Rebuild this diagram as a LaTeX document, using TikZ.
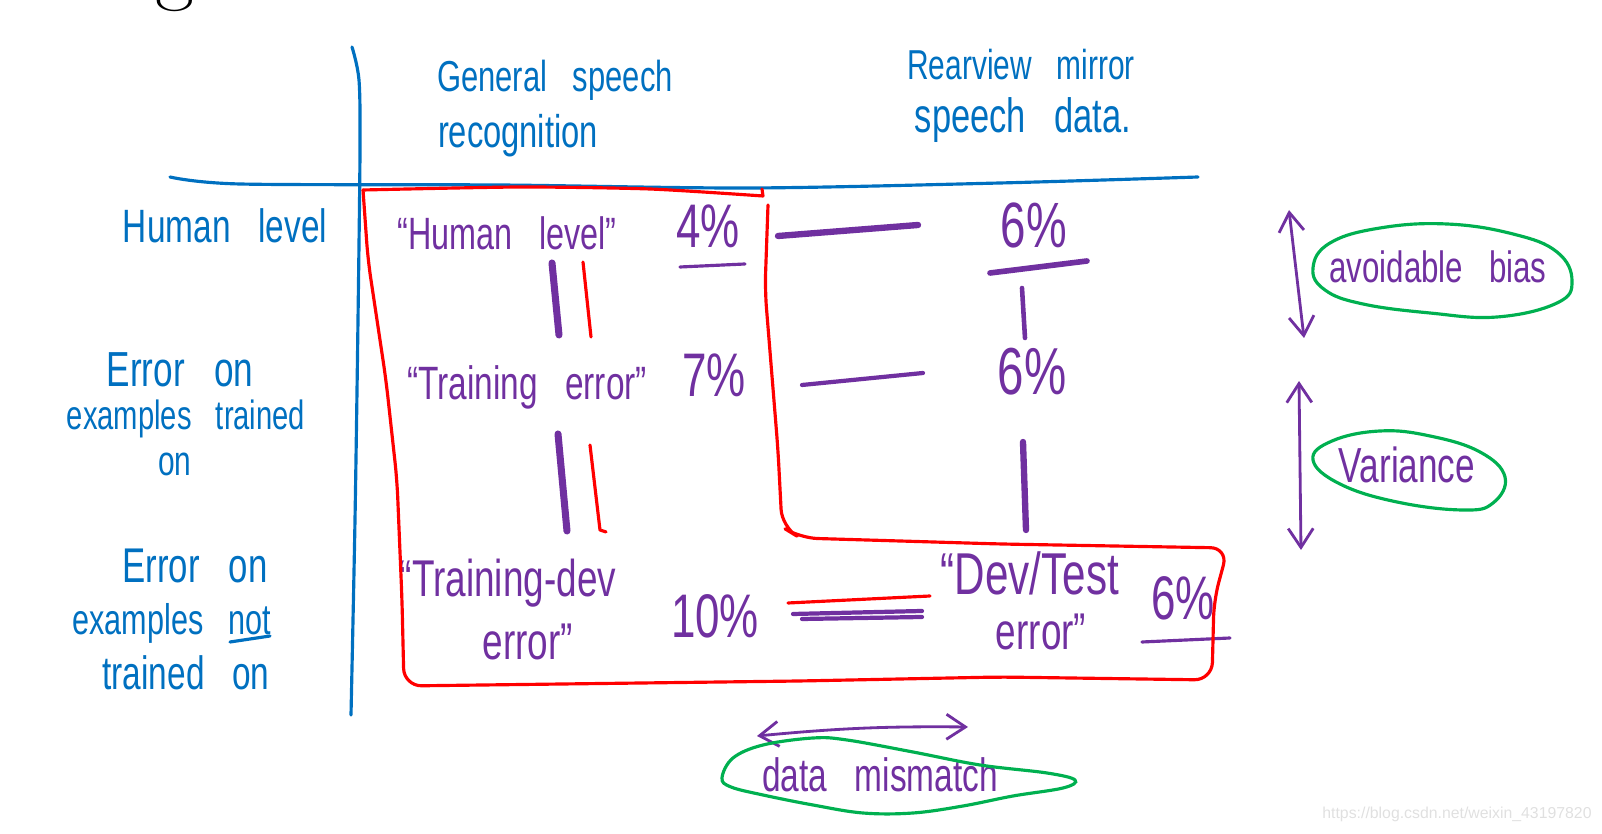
\documentclass[tikz,border=0pt]{standalone}
\usepackage{fontspec}
\newfontfamily\handfont{Liberation Sans}
\newfontfamily\markfont{Liberation Sans}
\usetikzlibrary{arrows.meta}
\definecolor{penblue}{RGB}{0,112,192}
\definecolor{penpurple}{RGB}{112,48,160}
\definecolor{penred}{RGB}{255,0,0}
\definecolor{pengreen}{RGB}{0,176,80}
\newcommand{\handat}[1]{\handfont\fontsize{#1}{#1}\selectfont\spaceskip=0.83em\relax}
\tikzset{
  hand/.style    = {font=\handat{#1}, inner sep=0pt, anchor=base, yscale=1.4, transform shape},
  hand/.default  = 9,
  blu/.style     = {hand=#1, text=penblue},
  blu/.default   = 9,
  pur/.style     = {hand=#1, text=penpurple},
  pur/.default   = 9,
  bluline/.style = {penblue, line width=0.9pt, line cap=round, line join=round},
  redline/.style = {penred, line width=0.9pt, line cap=round, line join=round},
  penline/.style = {penpurple, line width=#1, line cap=round},
  penline/.default = 0.9pt,
  bubble/.style  = {pengreen, line width=0.9pt},
  twoway/.style  = {penpurple, line width=0.8pt, line cap=round,
                    {Straight Barb[length=1.9mm,width=2.5mm]}-{Straight Barb[length=1.9mm,width=2.5mm]}},
}

\begin{document}
\begin{tikzpicture}[x=0.01cm, y=-0.01cm]
  \useasboundingbox (0,0) rectangle (1602,834);
  \node[anchor=base, inner sep=0pt, font=\fontsize{24}{28}\selectfont] (titleg) at (175,-5) {g};

  % table rules
  \draw[bluline] plot[smooth] coordinates {(352,47) (359,80) (360,150) (358,320) (355,520) (351,715)};
  \draw[bluline] plot[smooth] coordinates {(170,177) (240,184) (500,185) (750,188) (1000,183) (1198,177)};

  % column heads
  \node[blu=8.8] (gen1) at (555,92)  {General speech};
  \node[blu=9.3] (gen2) at (518,148) {recognition};
  \node[blu=8.5] (rvm1) at (1021,80) {Rearview mirror};
  \node[blu=9.8] (rvm2) at (1023,133) {speech data.};

  % row heads
  \node[blu=9.5] (hum) at (225,243) {Human level};
  \node[blu=10]  (tr1) at (180,387) {Error on};
  \node[blu=8.3] (tr2) at (186,430) {examples trained};
  \node[blu=8.5] (tr3) at (175,476) {on};
  \node[blu=9.9] (nt1) at (195,583) {Error on};
  \node[blu=8.7] (nt2) at (172,635) {examples not};
  \node[blu=9.5] (nt3) at (186,690) {trained on};
  \draw[bluline] (230,642) -- (270,636);

  % general speech column
  \node[pur=9.2]  (hl)   at (507,250) {“Human level”};
  \node[pur=12.5] (hlp)  at (708,248) {4\%};
  \node[pur=9.5]  (te)   at (527,400) {“Training error”};
  \node[pur=12.5] (tep)  at (714,397) {7\%};
  \node[pur=10.5] (td1)  at (508,597) {“Training-dev};
  \node[pur=10.5] (td2)  at (528,660) {error”};
  \node[pur=12.5] (tdp)  at (715,638) {10\%};
  \draw[penline] (680,267) -- (745,264);
  \draw[penline=2pt] (552,263) -- (559,335);
  \draw[redline] (583,262) -- (591,337);
  \draw[penline=2pt] (558,434) -- (567,531);
  \draw[redline] (590,445) -- (600,530) -- (606,532);

  % rearview mirror column
  \node[pur=13]   (rh)   at (1034,248) {6\%};
  \node[pur=13.5] (rt)   at (1032,395) {6\%};
  \node[pur=12]   (dt1)  at (1030,595) {“Dev/Test};
  \node[pur=10.5] (dt2)  at (1041,650) {error”};
  \node[pur=12.5] (dtp)  at (1183,620) {6\%};
  \draw[penline=1.6pt] (990,273) -- (1087,261);
  \draw[penline=1.3pt] (1022,288) -- (1025,338);
  \draw[penline=1.8pt] (1023,442) -- (1026,530);
  \draw[penline] (1142,642) -- (1230,638);

  % equal bars between columns
  \draw[penline=1.8pt] (778,236) -- (918,225);
  \draw[penline=1.2pt] (802,385) -- (923,373);
  \draw[redline] (788,603) -- (930,596);
  \draw[penline=1.2pt] (793,614) -- (922,611);
  \draw[penline=1.2pt] (802,619) -- (922,617);

  % red frame
  \draw[redline] plot[smooth, tension=0.4] coordinates {(363,190) (520,187) (650,189) (763,196)} -- (762,189);
  \draw[redline, rounded corners=5pt] (768,205) -- (765,290) -- (778,450) -- (782,527)
    -- (800,538) -- (1000,544) -- (1228,548) -- (1214,600) -- (1212,680)
    -- (1000,677) -- (800,681) -- (404,686) -- (402,600) -- (397,480)
    -- (386,380) -- (368,260) -- (363,190);

  % bias / variance / mismatch
  \coordinate (abTop) at (1289,210);
  \coordinate (abBot) at (1304,338);
  \coordinate (vaTop) at (1299,381);
  \coordinate (vaBot) at (1301,550);
  \coordinate (dmL) at (757,736);
  \coordinate (dmR) at (968,727);
  \draw[twoway] (abTop) -- (abBot);
  \draw[twoway] (vaTop) -- (vaBot);
  \draw[twoway] (dmL) to[bend left=3] (dmR);

  \node[pur=8.9] (avb) at (1438,283) {avoidable bias};
  \node[pur=10]  (var) at (1407,483) {Variance};
  \node[pur=9.5] (dmm) at (880,792) {data mismatch};
  \draw[bubble] plot[smooth cycle, tension=0.7] coordinates {(1313,268) (1330,243) (1380,228)
    (1447,224) (1513,234) (1557,252) (1572,281) (1557,303) (1497,317) (1430,313) (1363,304) (1325,290)};
  \draw[bubble] plot[smooth cycle, tension=0.7] coordinates {(1313,460) (1332,441) (1380,431)
    (1430,436) (1480,452) (1505,477) (1493,503) (1463,510) (1397,502) (1340,484)};
  \draw[bubble] plot[smooth cycle, tension=0.6] coordinates {(722,778) (733,758) (763,745) (813,738)
    (847,740) (913,752) (980,765) (1047,773) (1075,780) (1063,788) (1013,796) (963,806)
    (913,813) (863,813) (813,805) (763,795) (731,787)};

  \node[font=\markfont\fontsize{4.5}{5}\selectfont, text=black!12, anchor=base, inner sep=0pt]
    (wm) at (1457,819) {https://blog.csdn.net/weixin\_43197820};
\end{tikzpicture}
\end{document}
